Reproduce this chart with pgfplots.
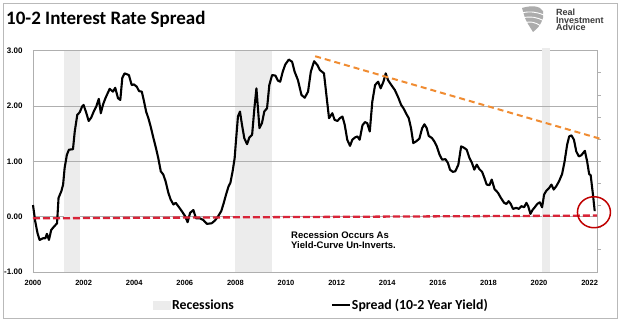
\documentclass[border=0pt]{standalone}
\usepackage{pgfplots}
\pgfplotsset{compat=1.18}
\usepackage{fontspec}
\setmainfont{Liberation Sans}
\newfontfamily\carlito{Carlito}
\definecolor{recgray}{RGB}{236,236,236}
\definecolor{gridgray}{RGB}{175,175,175}
\definecolor{redline}{RGB}{216,36,56}
\definecolor{orangeline}{RGB}{240,140,50}
\definecolor{circred}{RGB}{192,0,0}
\definecolor{logogray}{RGB}{60,60,60}

\pgfplotstableread{
x y
2000.00 0.21
2000.09 -0.09
2000.18 -0.30
2000.26 -0.42
2000.40 -0.39
2000.49 -0.39
2000.55 -0.31
2000.63 -0.42
2000.72 -0.24
2000.83 -0.18
2000.95 -0.12
2001.01 0.34
2001.12 0.46
2001.19 0.58
2001.25 0.88
2001.34 1.12
2001.42 1.21
2001.58 1.22
2001.65 1.54
2001.75 1.84
2001.85 1.89
2001.94 1.99
2002.00 2.02
2002.11 1.87
2002.20 1.73
2002.30 1.79
2002.40 1.90
2002.50 1.99
2002.60 2.13
2002.68 1.87
2002.77 2.03
2002.87 2.15
2003.03 2.31
2003.16 2.26
2003.25 2.33
2003.36 2.14
2003.45 2.11
2003.53 2.51
2003.62 2.59
2003.79 2.56
2003.90 2.38
2003.99 2.39
2004.10 2.35
2004.19 2.27
2004.30 2.26
2004.39 2.08
2004.47 1.90
2004.56 1.78
2004.65 1.63
2004.76 1.42
2004.86 1.24
2004.95 1.06
2005.05 0.82
2005.15 0.76
2005.24 0.64
2005.35 0.43
2005.44 0.31
2005.55 0.22
2005.64 0.25
2005.74 0.19
2005.88 0.10
2006.01 0.01
2006.11 -0.10
2006.21 0.07
2006.34 0.12
2006.44 -0.03
2006.60 -0.03
2006.73 -0.06
2006.87 -0.13
2007.06 -0.12
2007.19 -0.07
2007.32 0.01
2007.44 0.10
2007.54 0.25
2007.63 0.40
2007.73 0.55
2007.80 0.61
2007.89 0.82
2007.97 1.06
2008.02 1.36
2008.10 1.81
2008.18 1.90
2008.26 1.66
2008.35 1.42
2008.46 1.31
2008.55 1.43
2008.66 1.48
2008.75 1.96
2008.83 2.32
2008.89 1.96
2008.95 1.60
2009.05 1.69
2009.14 1.90
2009.25 1.96
2009.34 2.38
2009.45 2.56
2009.58 2.55
2009.68 2.46
2009.77 2.44
2009.87 2.62
2009.97 2.75
2010.11 2.84
2010.24 2.80
2010.34 2.62
2010.47 2.47
2010.61 2.20
2010.74 2.15
2010.87 2.26
2010.98 2.62
2011.11 2.81
2011.24 2.74
2011.34 2.65
2011.50 2.59
2011.61 2.14
2011.70 1.78
2011.83 1.87
2011.92 1.75
2012.03 1.73
2012.13 1.78
2012.23 1.81
2012.32 1.66
2012.42 1.39
2012.53 1.28
2012.62 1.39
2012.72 1.43
2012.82 1.45
2012.91 1.39
2013.02 1.65
2013.12 1.71
2013.21 1.69
2013.31 1.54
2013.41 2.08
2013.52 2.38
2013.64 2.44
2013.74 2.32
2013.85 2.44
2013.94 2.59
2014.03 2.47
2014.16 2.38
2014.30 2.29
2014.43 2.16
2014.55 2.02
2014.64 1.96
2014.74 1.87
2014.85 1.78
2014.94 1.60
2015.03 1.33
2015.14 1.36
2015.27 1.41
2015.38 1.60
2015.47 1.67
2015.56 1.60
2015.64 1.46
2015.77 1.42
2015.86 1.36
2015.96 1.27
2016.06 1.13
2016.17 1.03
2016.30 1.04
2016.40 0.97
2016.48 0.85
2016.59 0.81
2016.69 0.82
2016.81 0.94
2016.92 1.27
2017.02 1.25
2017.14 1.21
2017.25 1.06
2017.35 0.97
2017.44 0.85
2017.54 0.94
2017.64 0.86
2017.75 0.81
2017.84 0.70
2017.93 0.58
2018.04 0.57
2018.13 0.67
2018.24 0.50
2018.38 0.43
2018.49 0.34
2018.62 0.25
2018.71 0.23
2018.80 0.28
2018.88 0.23
2018.97 0.14
2019.10 0.16
2019.20 0.14
2019.30 0.19
2019.41 0.17
2019.50 0.25
2019.57 0.19
2019.66 0.05
2019.74 0.12
2019.83 0.17
2019.93 0.23
2020.03 0.26
2020.12 0.17
2020.20 0.40
2020.29 0.47
2020.40 0.52
2020.49 0.58
2020.58 0.49
2020.68 0.55
2020.79 0.64
2020.91 0.77
2021.01 1.00
2021.11 1.30
2021.19 1.45
2021.28 1.47
2021.38 1.39
2021.47 1.18
2021.57 1.09
2021.67 1.11
2021.81 1.19
2021.90 1.00
2021.98 0.77
2022.04 0.75
2022.13 0.40
2022.20 0.10
}\spread

\begin{document}
\begin{tikzpicture}
\begin{scope}[x=1pt,y=1pt]
\useasboundingbox (0,0) rectangle (625,323);
\fill[white] (0,0) rectangle (625,323);
\draw[gray!55, line width=1pt] (3,4) rectangle (617,319);

% title
\node[anchor=base west, inner sep=0pt] at (6,298) {\carlito\bfseries\fontsize{19}{21}\selectfont 10-2 Interest Rate Spread};

% logo
\fill[gray!65] (522,315) .. controls (532,318) and (540,317) .. (543,312) -- (543,305) .. controls (541,298) and (537,294) .. (533,291) .. controls (530,296) and (527,300) .. (525,305) -- cycle;
\draw[white, line width=0.9pt] (521,310) .. controls (530,312) and (537,311) .. (544,308);
\draw[white, line width=0.9pt] (522,305) .. controls (530,307) and (537,306) .. (544,302);
\draw[white, line width=0.9pt] (524,300) .. controls (530,302) and (535,301) .. (541,297);
\node[anchor=base west, inner sep=0pt, text=logogray] at (556,307) {\bfseries\fontsize{9}{10}\selectfont Real};
\node[anchor=base west, inner sep=0pt, text=logogray] at (556,299.5) {\bfseries\fontsize{9}{10}\selectfont Investment};
\node[anchor=base west, inner sep=0pt, text=logogray] at (556,292) {\bfseries\fontsize{9}{10}\selectfont Advice};
\end{scope}

% secondary right axis (ticks only)
\begin{axis}[
  at={(33pt,51pt)}, anchor=south west,
  scale only axis, width=564pt, height=221.3pt,
  xmin=2000, xmax=2022.29, ymin=-1, ymax=3,
  hide x axis,
  axis y line*=right,
  axis line style={draw=gridgray, line width=0.8pt},
  ytick={-0.6,-0.2,0.2,0.6,1.0,1.4,1.8,2.2,2.6},
  yticklabels={},
  tick align=outside,
  major tick length=4pt,
  tick style={draw=gridgray, line width=0.8pt},
]
\addplot[draw=none] coordinates {(2000,0)};
\end{axis}

\begin{axis}[
  at={(33pt,51pt)}, anchor=south west,
  scale only axis, width=564pt, height=221.3pt,
  xmin=2000, xmax=2022.29, ymin=-1, ymax=3,
  clip=false,
  axis line style={draw=gridgray, line width=0.8pt},
  xtick={2000,2002,...,2022},
  ytick={-1,0,1,2,3},
  ymajorgrids,
  grid style={draw=gridgray, line width=0.8pt},
  major tick length=0pt,
  /pgf/number format/assume math mode=true,
  x tick label style={/pgf/number format/1000 sep={}, font=\bfseries\fontsize{7.5}{8}\selectfont, yshift=-5pt},
  y tick label style={/pgf/number format/.cd, fixed, fixed zerofill, precision=2, /tikz/.cd, font=\bfseries\fontsize{8}{9}\selectfont, xshift=-7pt},
  legend style={at={(0.2128,-0.1514)}, anchor=west, draw=none, fill=none,
    inner sep=0pt, outer sep=0pt,
    font=\carlito\bfseries\fontsize{13.8}{15}\selectfont,
    /tikz/every even column/.append style={column sep=96pt},
    nodes={inner sep=1pt}},
  legend columns=2,
  legend cell align=left,
]
% recessions
\addplot[fill=recgray, draw=none, area legend,
  legend image code/.code={\fill[recgray] (0pt,-4.5pt) rectangle (18pt,4.5pt);}]
  coordinates {(2001.24,-1) (2001.24,3) (2001.86,3) (2001.86,-1)} -- cycle;
\addlegendentry{Recessions}
\addplot[fill=recgray, draw=none, forget plot]
  coordinates {(2008.00,-1) (2008.00,3) (2009.43,3) (2009.43,-1)} -- cycle;
\addplot[fill=recgray, draw=none, forget plot]
  coordinates {(2020.13,-1) (2020.13,3.04) (2020.43,3.04) (2020.43,-1)} -- cycle;

% redraw gridlines above shading
\addplot[draw=gridgray, line width=0.8pt, forget plot] coordinates {(2000,1) (2022.29,1)};
\addplot[draw=gridgray, line width=0.8pt, forget plot] coordinates {(2000,2) (2022.29,2)};

% spread
\addplot[black, line width=2.1pt, line join=round,
  legend image code/.code={\draw[black, line width=2pt] (0pt,0pt) -- (18pt,0pt);}]
  table[x=x, y=y] {\spread};
\addlegendentry{Spread (10-2 Year Yield)}

% zero reference line
\addplot[redline, line width=2.3pt, dash pattern=on 7pt off 3pt, forget plot]
  coordinates {(2000,-0.03) (2022.29,0.02)};

% trend line
\addplot[orangeline, line width=2pt, dash pattern=on 6pt off 4pt, forget plot]
  coordinates {(2011.15,2.90) (2022.48,1.40)};

% circle annotation
\draw[circred, line width=1.5pt] (axis cs:2022.17,0.08) ellipse [x radius=16.5pt, y radius=15.5pt];
\end{axis}

\node[anchor=base west, inner sep=0pt] at (291pt,84.5pt) {\bfseries\fontsize{9.5}{11}\selectfont Recession Occurs As};
\node[anchor=base west, inner sep=0pt] at (291pt,74pt) {\bfseries\fontsize{9.5}{11}\selectfont Yield-Curve Un-Inverts.};
\end{tikzpicture}
\end{document}
